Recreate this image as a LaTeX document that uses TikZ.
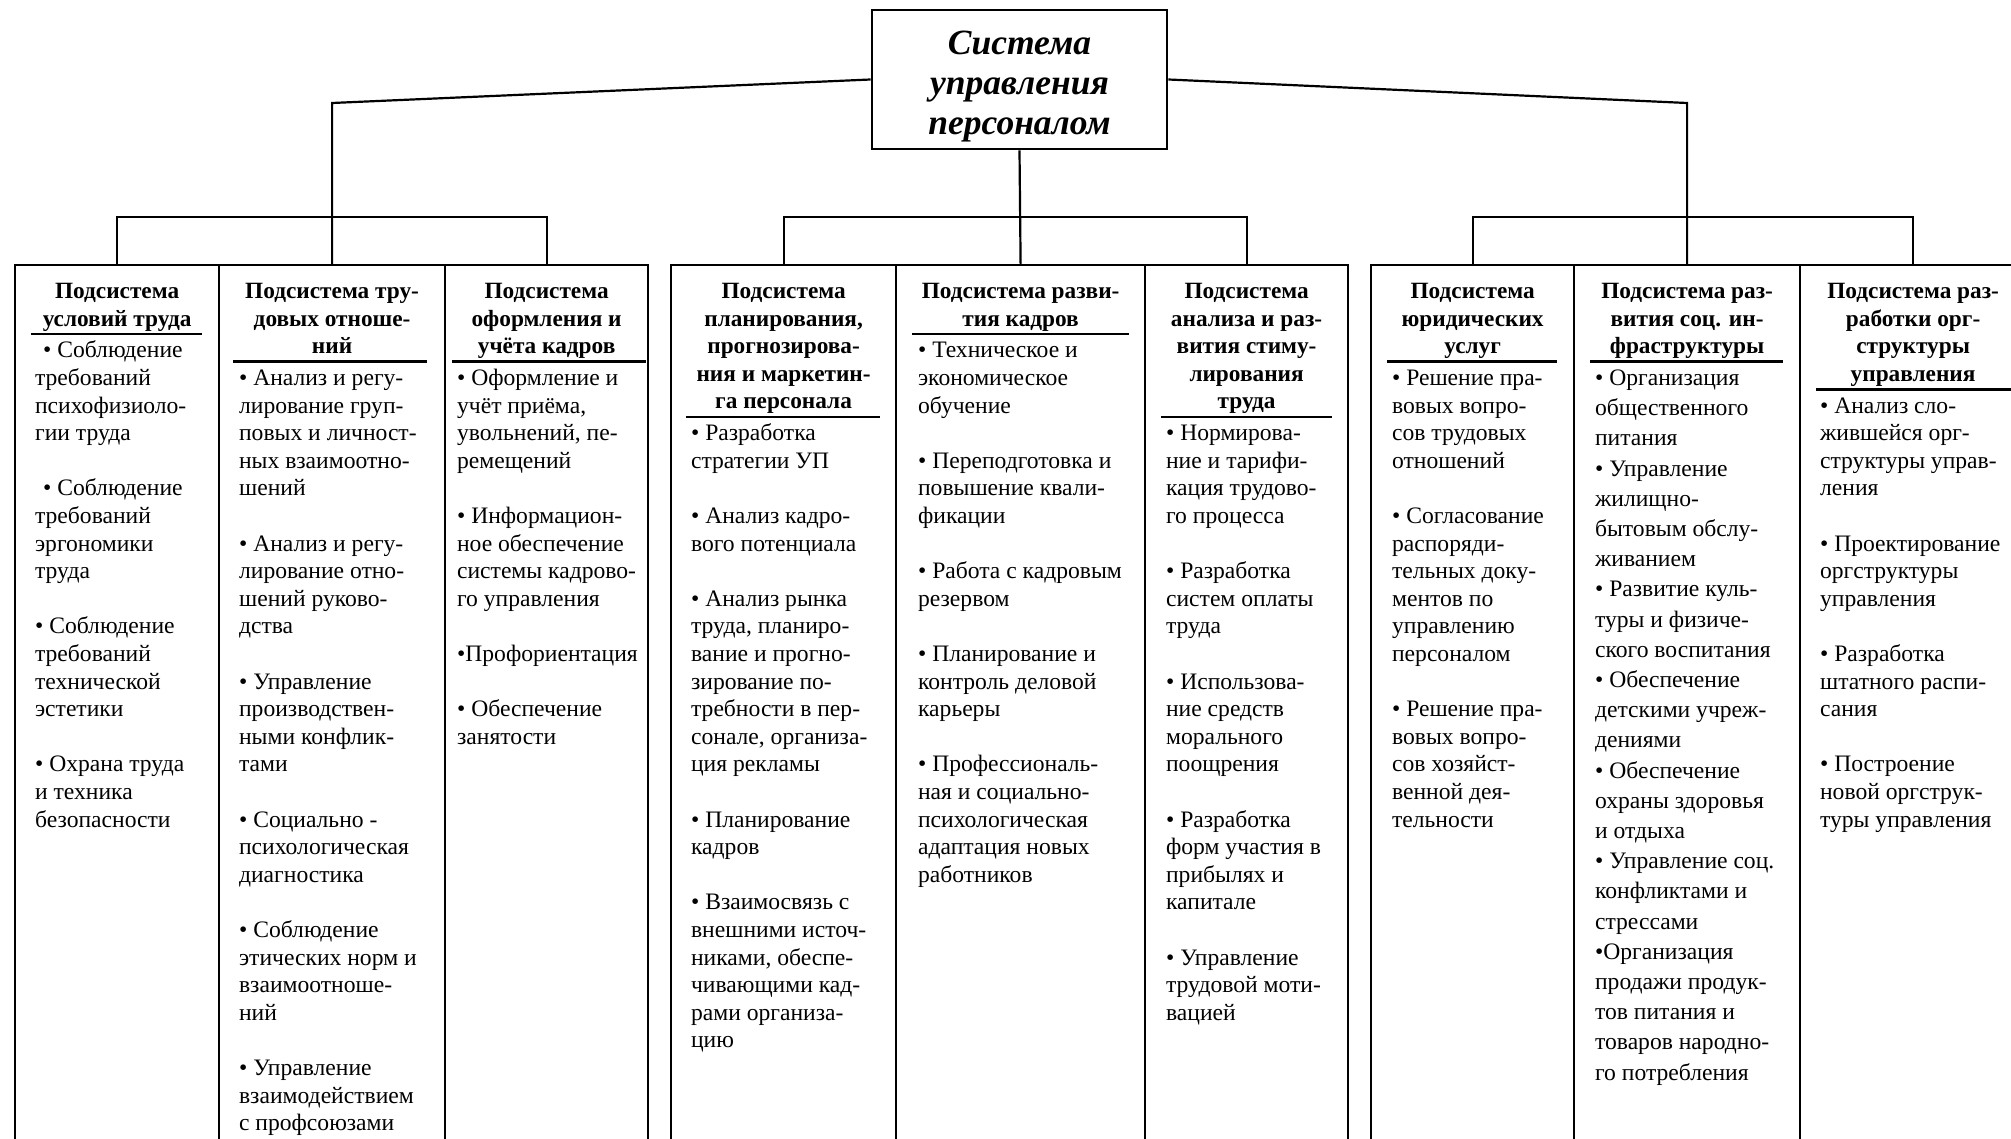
\documentclass[tikz,border=0pt]{standalone}
\usepackage{fontspec}
\setmainfont{Liberation Serif}
\newcommand\mystrut{\rule{0pt}{20pt}}
\newcommand\rootstrut{\rule{0pt}{30pt}}
\begin{document}
\begin{tikzpicture}[x=1pt,y=-1pt,
  line width=2.2pt,
  col/.style={draw, rectangle, inner sep=0pt, anchor=north west, minimum height=960pt},
  hdr/.style={anchor=north, align=center, inner sep=0pt, font=\fontsize{23.3}{27.6}\selectfont\bfseries},
  body/.style={anchor=north west, align=left, inner sep=0pt, font=\fontsize{23.6}{27.6}\selectfont},
  bodywide/.style={anchor=north west, align=left, inner sep=0pt, font=\fontsize{23.6}{30.2}\selectfont},
  uline/.style={line width=2.6pt}
]
\path[use as bounding box] (0,0) rectangle (2011,1139);
\clip (0,0) rectangle (2011,1139);
\fill[white] (0,0) rectangle (2011,1139);

% root
\node[draw, line width=2.8pt, minimum width=295, minimum height=139, inner sep=0pt] (root) at (1019.5,79.5) {};
\node[anchor=north, align=center, inner sep=0pt, font=\fontsize{35.5}{40}\selectfont\bfseries\itshape] (roottext) at (1019.5,23) {\rootstrut Система\\управления\\персоналом};

% columns
\node[col, minimum width=204] (c1) at (14,264) {};
\node[col, minimum width=226] (c2) at (218,264) {};
\node[col, minimum width=203] (c3) at (444,264) {};
\node[col, minimum width=225] (c4) at (670,264) {};
\node[col, minimum width=249] (c5) at (895,264) {};
\node[col, minimum width=203] (c6) at (1144,264) {};
\node[col, minimum width=203] (c7) at (1370,264) {};
\node[col, minimum width=226] (c8) at (1573,264) {};
\node[col, minimum width=226] (c9) at (1799,264) {};

% connectors
\coordinate (y0) at (0,103);
\coordinate (y1) at (0,217);
\draw (root.west) -- (c2.north |- y0) -- (c2.north);
\draw (c1.north) -- (c1.north |- y1) -- (c3.north |- y1) -- (c3.north);
\draw (root.south) -- (c5.north);
\draw (c4.north) -- (c4.north |- y1) -- (c6.north |- y1) -- (c6.north);
\draw (root.east) -- (c8.north |- y0) -- (c8.north);
\draw (c7.north) -- (c7.north |- y1) -- (c9.north |- y1) -- (c9.north);

% headers
\node[hdr] (h1) at (c1.north |- 0,277.5) {\mystrut Подсистема\\условий труда};
\node[hdr] (h2) at (c2.north |- 0,277.5) {\mystrut Подсистема тру-\\довых отноше-\\ний};
\node[hdr] (h3) at (c3.north |- 0,277.5) {\mystrut Подсистема\\оформления и\\учёта кадров};
\node[hdr] (h4) at (c4.north |- 0,277.5) {\mystrut Подсистема\\планирования,\\прогнозирова-\\ния и маркетин-\\га персонала};
\node[hdr] (h5) at (c5.north |- 0,277.5) {\mystrut Подсистема разви-\\тия кадров};
\node[hdr] (h6) at (c6.north |- 0,277.5) {\mystrut Подсистема\\анализа и раз-\\вития стиму-\\лирования\\труда};
\node[hdr] (h7) at (c7.north |- 0,277.5) {\mystrut Подсистема\\юридических\\услуг};
\node[hdr] (h8) at (c8.north |- 0,277.5) {\mystrut Подсистема раз-\\вития соц. ин-\\фраструктуры};
\node[hdr] (h9) at (c9.north |- 0,277.5) {\mystrut Подсистема раз-\\работки орг-\\структуры\\управления};

% underlines
\draw[uline] (31,334.1) -- (202,334.1);
\draw[uline] (233,361.7) -- (427,361.7);
\draw[uline] (452,361.7) -- (646,361.7);
\draw[uline] (686,416.9) -- (880,416.9);
\draw[uline] (912,334.1) -- (1129,334.1);
\draw[uline] (1161,416.9) -- (1332,416.9);
\draw[uline] (1387,361.7) -- (1557,361.7);
\draw[uline] (1590,361.7) -- (1783,361.7);
\draw[uline] (1816,389.3) -- (2020,389.3);

% bodies
\node[body] (t1) at (34,336.8) {\mystrut\hspace*{8pt}• Соблюдение\\требований\\психофизиоло-\\гии труда\\~\\\hspace*{8pt}• Соблюдение\\требований\\эргономики\\труда\\~\\• Соблюдение\\требований\\технической\\эстетики\\~\\• Охрана труда\\и техника\\безопасности};
\node[body] (t2) at (238,364.4) {\mystrut• Анализ и регу-\\лирование груп-\\повых и личност-\\ных взаимоотно-\\шений\\~\\• Анализ и регу-\\лирование отно-\\шений руково-\\дства\\~\\• Управление\\производствен-\\ными конфлик-\\тами\\~\\• Социально -\\психологическая\\диагностика\\~\\• Соблюдение\\этических норм и\\взаимоотноше-\\ний\\~\\• Управление\\взаимодействием\\с профсоюзами};
\node[body] (t3) at (456,364.4) {\mystrut• Оформление и\\учёт приёма,\\увольнений, пе-\\ремещений\\~\\• Информацион-\\ное обеспечение\\системы кадрово-\\го управления\\~\\•Профориентация\\~\\• Обеспечение\\занятости};
\node[body] (t4) at (690,419.6) {\mystrut• Разработка\\стратегии УП\\~\\• Анализ кадро-\\вого потенциала\\~\\• Анализ рынка\\труда, планиро-\\вание и прогно-\\зирование по-\\требности в пер-\\сонале, организа-\\ция рекламы\\~\\• Планирование\\кадров\\~\\• Взаимосвязь с\\внешними источ-\\никами, обеспе-\\чивающими кад-\\рами организа-\\цию};
\node[body] (t5) at (917,336.8) {\mystrut• Техническое и\\экономическое\\обучение\\~\\• Переподготовка и\\повышение квали-\\фикации\\~\\• Работа с кадровым\\резервом\\~\\• Планирование и\\контроль деловой\\карьеры\\~\\• Профессиональ-\\ная и социально-\\психологическая\\адаптация новых\\работников};
\node[body] (t6) at (1165,419.6) {\mystrut• Нормирова-\\ние и тарифи-\\кация трудово-\\го процесса\\~\\• Разработка\\систем оплаты\\труда\\~\\• Использова-\\ние средств\\морального\\поощрения\\~\\• Разработка\\форм участия в\\прибылях и\\капитале\\~\\• Управление\\трудовой моти-\\вацией};
\node[body] (t7) at (1391,364.4) {\mystrut• Решение пра-\\вовых вопро-\\сов трудовых\\отношений\\~\\• Согласование\\распоряди-\\тельных доку-\\ментов по\\управлению\\персоналом\\~\\• Решение пра-\\вовых вопро-\\сов хозяйст-\\венной дея-\\тельности};
\node[bodywide] (t8) at (1594,364.4) {\mystrut• Организация\\общественного\\питания\\• Управление\\жилищно-\\бытовым обслу-\\живанием\\• Развитие куль-\\туры и физиче-\\ского воспитания\\• Обеспечение\\детскими учреж-\\дениями\\• Обеспечение\\охраны здоровья\\и отдыха\\• Управление соц.\\конфликтами и\\стрессами\\•Организация\\продажи продук-\\тов питания и\\товаров народно-\\го потребления};
\node[body] (t9) at (1819,392) {\mystrut• Анализ сло-\\жившейся орг-\\структуры управ-\\ления\\~\\• Проектирование\\оргструктуры\\управления\\~\\• Разработка\\штатного распи-\\сания\\~\\• Построение\\новой оргструк-\\туры управления};
\end{tikzpicture}
\end{document}
